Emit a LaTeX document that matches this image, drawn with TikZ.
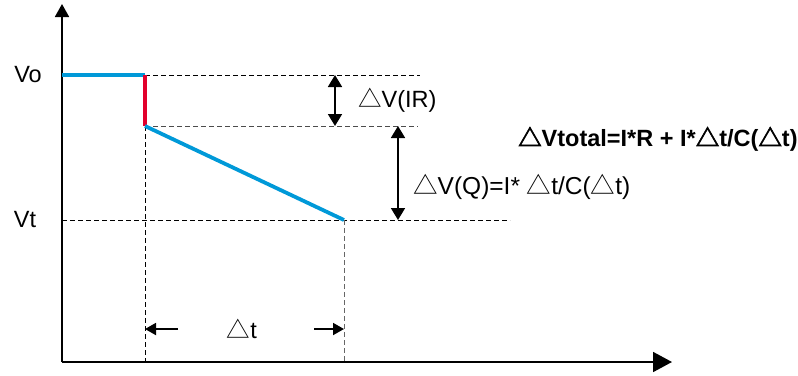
\documentclass[tikz,border=0pt]{standalone}
\usepackage{fontspec}
\setmainfont{Liberation Sans}
\newfontfamily\cjk{Noto Sans CJK SC}
\newfontfamily\cjkbold[FakeBold=2.5]{Noto Sans CJK SC}
\usetikzlibrary{arrows.meta,positioning}
\definecolor{curveblue}{RGB}{0,153,216}
\definecolor{dropred}{RGB}{226,0,44}
\newcommand{\tri}{{\cjk △}}
\newcommand{\btri}{{\cjkbold △}}
\begin{document}
\begin{tikzpicture}[
    x=1pt, y=-1pt,
    every node/.style={font=\fontsize{23.5}{28}\selectfont, inner sep=0pt},
    axis/.style={line width=1.8pt},
    curve/.style={line width=3.8pt, curveblue},
    drop/.style={line width=3.8pt, dropred},
    level/.style={line width=0.8pt, dash pattern=on 5pt off 3pt},
    dimarrow/.style={line width=1.8pt, {Triangle[length=12pt,width=14pt]}-{Triangle[length=12pt,width=14pt]}},
    span/.style={line width=1.8pt, -{Triangle[length=11pt,width=12pt]}}
]
\useasboundingbox (0,0) rectangle (798,375);
\coordinate (origin) at (62,362);
\coordinate (ytop) at (62,4);
\coordinate (xend) at (672,362);
\coordinate (vo) at (62,75);
\coordinate (vt) at (62,220);
\coordinate (drop) at (145,75);
\coordinate (knee) at (145,126);
\coordinate (vtend) at (344,220);
\coordinate (voend) at (420,75);
\coordinate (kneeend) at (418,126);
\coordinate (vtlineend) at (510,220);
\coordinate (kneefoot) at (145,362);
\coordinate (vtfoot) at (344,362);
\coordinate (irtop) at (335,75);
\coordinate (irbot) at (335,126);
\coordinate (qtop) at (398,126);
\coordinate (qbot) at (398,220);
\coordinate (dtleft) at (178,329);
\coordinate (dtleftend) at (145,329);
\coordinate (dtright) at (314,329);
\coordinate (dtrightend) at (344,329);

\draw[axis, -{Triangle[length=13pt,width=14pt]}] (origin) -- (ytop);
\draw[axis, -{Triangle[length=19pt,width=20pt]}] (origin) -- (xend);

\draw[level] (drop) -- (voend);
\draw[level, black!70] (knee) -- (kneeend);
\draw[level] (vt) -- (vtlineend);
\draw[level] (knee) -- (kneefoot);
\draw[level, black!60] (vtend) -- (vtfoot);

\draw[curve] (vo) -- (drop);
\draw[drop] (drop) -- (knee);
\draw[curve] (knee) -- (vtend);

\draw[dimarrow] (irtop) -- (irbot);
\draw[dimarrow] (qtop) -- (qbot);
\draw[span] (dtleft) -- (dtleftend);
\draw[span] (dtright) -- (dtrightend);

\node (volabel) at (28,75) {Vo};
\node (vtlabel) at (25,220) {Vt};
\node[anchor=west] (irlabel) at (358,100) {\tri V(IR)};
\node[anchor=west, font=\fontsize{24.5}{29}\selectfont] (qlabel) at (413,187) {\tri V(Q)=I* \tri t/C(\tri t)};
\node[anchor=west, font=\fontsize{23.5}{28}\selectfont\bfseries] (total) at (518,139) {\btri Vtotal=I*R + I*\btri t/C(\btri t)};
\node (dtlabel) at (242,329) {\tri t};
\end{tikzpicture}
\end{document}
